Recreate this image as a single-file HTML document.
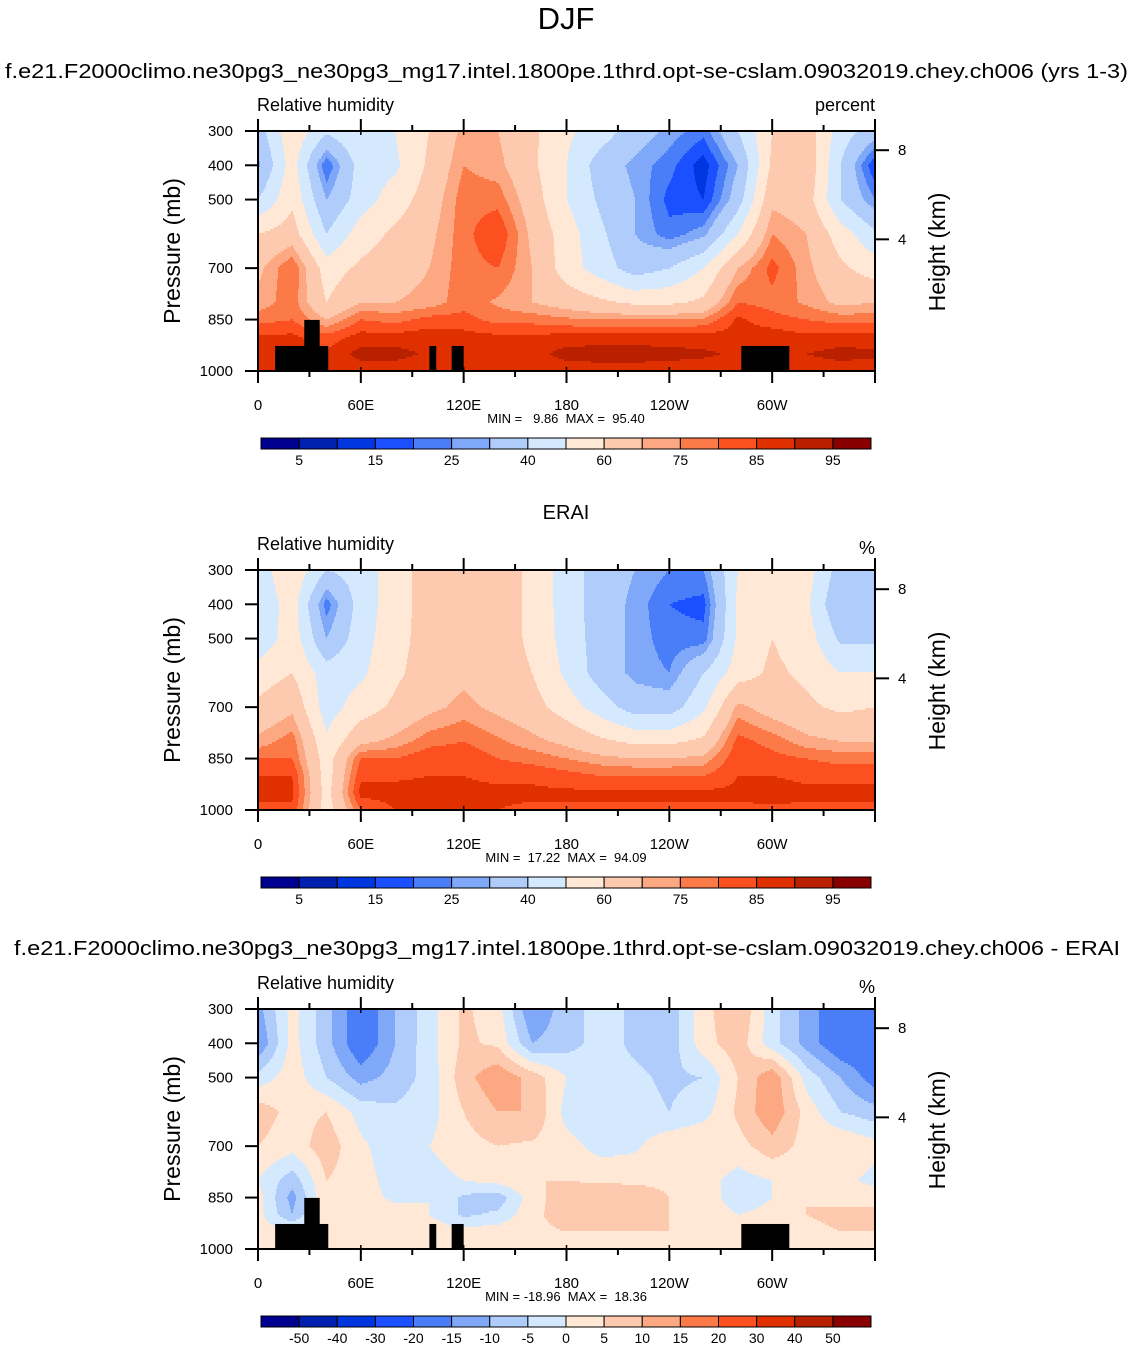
<!DOCTYPE html>
<html><head><meta charset="utf-8"><style>
html,body{margin:0;padding:0;background:#fff}
svg{display:block;font-family:"Liberation Sans",Arial,sans-serif}
.pre{white-space:pre}
</style></head><body>
<svg id="root" width="1133" height="1349" viewBox="0 0 1133 1349" xmlns="http://www.w3.org/2000/svg">
<text x="566" y="29" font-size="31" text-anchor="middle">DJF</text>
<text x="5" y="78" font-size="20" textLength="1123" lengthAdjust="spacingAndGlyphs">f.e21.F2000climo.ne30pg3_ne30pg3_mg17.intel.1800pe.1thrd.opt-se-cslam.09032019.chey.ch006 (yrs 1-3)</text>
<text x="566" y="519" font-size="20" text-anchor="middle">ERAI</text>
<text x="14" y="955" font-size="20" textLength="1106" lengthAdjust="spacingAndGlyphs">f.e21.F2000climo.ne30pg3_ne30pg3_mg17.intel.1800pe.1thrd.opt-se-cslam.09032019.chey.ch006 - ERAI</text>
</svg>
<script>
// ---- data ----
const lons = [0,20,40,60,80,100,120,140,160,180,200,220,240,260,280,300,320,340,360];
const levels = [300,400,500,600,700,800,850,900,950,1000];
const modelRH = [
[35,58,42,50,50,60,72,70,62,52,45,35,28,22,40,60,66,45,35],
[28,55,20,45,48,62,75,72,62,50,35,28,22,12,30,62,68,40,15],
[40,58,30,45,55,65,78,78,65,50,38,30,18,15,35,68,65,40,25],
[60,65,40,55,62,68,78,85,68,55,42,30,22,28,50,75,70,55,42],
[68,80,55,62,66,70,78,80,70,55,45,35,40,50,70,82,72,62,55],
[72,78,60,70,70,72,78,74,70,66,62,58,58,62,80,78,74,68,70],
[78,80,70,80,78,82,82,78,78,76,75,75,75,76,86,82,80,78,78],
[86,86,82,87,87,88,87,86,86,87,87,87,87,87,87,88,86,87,87],
[89,89,86,92,92,89,89,88,88,92,93,93,92,91,89,89,90,92,91],
[86,86,85,87,87,86,86,86,86,87,87,87,87,87,87,87,87,87,87]];
const eraiRH = [
[45,58,40,45,55,65,70,65,58,45,35,30,25,25,50,58,55,35,40],
[42,55,22,45,55,65,66,65,58,45,35,28,20,18,52,58,52,30,30],
[42,56,30,46,56,65,66,65,58,46,35,28,22,22,52,60,55,38,38],
[55,60,45,48,58,65,68,65,60,48,35,28,25,40,55,62,58,50,50],
[62,68,45,55,62,68,72,68,64,55,45,35,35,48,72,66,62,58,60],
[72,78,52,68,72,78,80,76,72,68,62,58,58,62,82,78,72,70,70],
[80,80,55,80,80,84,84,80,78,75,72,70,70,72,84,82,80,78,78],
[85,85,55,84,84,85,85,84,84,82,80,80,80,80,85,85,84,84,84],
[86,86,56,87,87,87,86,86,86,86,86,86,86,86,86,87,86,86,86],
[84,84,55,80,85,85,85,85,84,84,84,84,84,84,84,84,84,84,84]];
const diffRH = [
[-12,2,-8,-20,-10,-2,6,2,-15,-7,-3,-6,-8,3,10,-3,-12,-20,-20],
[-15,2,-8,-20,-10,-2,6,4,-10,-7,-3,-6,-8,3,8,-3,-12,-20,-20],
[-3,3,-5,-12,-8,-3,8,14,8,0,-3,-4,-6,-5,5,14,-2,-10,-18],
[8,3,5,-2,-4,-2,5,10,10,-2,-5,-3,-5,-2,6,14,3,-5,-8],
[5,2,8,1,-3,0,3,5,4,2,-2,-1,4,5,3,8,3,5,2],
[0,-8,5,2,-2,-2,0,2,5,5,4,4,4,2,-2,0,2,2,-2],
[2,-12,5,2,-1,0,-6,-8,3,8,10,8,5,4,-4,0,5,4,4],
[2,-10,5,3,2,0,-6,-4,4,7,9,7,5,5,0,2,5,6,6],
[2,2,3,2,3,3,2,3,4,5,5,5,5,4,1,2,4,5,5],
[3,3,3,2,3,3,2,3,3,4,4,4,3,3,2,3,3,2,3]];
const rhLevels = [5,10,15,20,25,30,40,50,60,70,75,80,85,90,95];
const rhTickLabels = ["5","15","25","40","60","75","85","95"];
const diffLevels = [-50,-40,-30,-20,-15,-10,-5,0,5,10,15,20,30,40,50];
const diffTickLabels = ["-50","-40","-30","-20","-15","-10","-5","0","5","10","15","20","30","40","50"];
const lonTicks = [0,60,120,180,240,300];
const lonTickLabels = ["0","60E","120E","180","120W","60W"];
const pTicks = [300,400,500,700,850,1000];
const hTicks = [8,4];
const hTickP = [356,616];
const stats = ["MIN =   9.86  MAX =  95.40","MIN =  17.22  MAX =  94.09","MIN = -18.96  MAX =  18.36"];
const colors = ["#000090","#0020b0","#0036e0","#1a50ff","#4a7ef8","#80a8f8","#b0ccfa","#d4e8fe","#ffe8d6","#fdcab0","#fca882","#fc7a48","#fc5020","#e03000","#b82000","#880000"];
// topography blocks: [lon0, lon1, pressureTop]
const topo = [[10,41,927],[27,36,851],[100,104,927],[113,120,927],[282,310,927]];

const NS="http://www.w3.org/2000/svg";
const root=document.getElementById('root');
function mk(tag,attrs,parent){const e=document.createElementNS(NS,tag);for(const k in attrs)e.setAttribute(k,attrs[k]);(parent||root).appendChild(e);return e;}
const X0=258,X1=875;
function xs(lon){return X0+(lon/360)*(X1-X0);}
function ys(p,top){return top+(p-300)/700*240;}
function interp(grid,lon,p){
  let i=Math.min(lons.length-2,Math.floor(lon/20));let tx=(lon-lons[i])/(lons[i+1]-lons[i]);
  let j=0;while(j<levels.length-2&&p>levels[j+1])j++;
  let ty=(p-levels[j])/(levels[j+1]-levels[j]);ty=Math.max(0,Math.min(1,ty));
  const a=grid[j][i]*(1-tx)+grid[j][i+1]*tx, b=grid[j+1][i]*(1-tx)+grid[j+1][i+1]*tx;
  return a*(1-ty)+b*ty;}
function cls(v,lv){let k=0;while(k<lv.length&&v>=lv[k])k++;return k;}

function panel(top,grid,lv,tickLabels,unit,stat,showTopo,idx){
  const g=mk('g',{});
  
  
  const field=mk('g',{},g);
  
  
  const rowH=2;
  for(let y=top;y<top+240;y+=rowH){
    const p=300+(y+rowH/2-top)/240*700;
    let runStart=X0,runC=-1;
    for(let x=X0;x<=X1;x++){
      const c = x<X1 ? cls(interp(grid,(x+0.5-X0)/(X1-X0)*360,p),lv) : -2;
      if(c!==runC){
        if(runC>=0){const r=mk('rect',{x:runStart,y:y,width:x-runStart+0.5,height:rowH+0.4,fill:colors[runC]},field);
          
          }
        runStart=x;runC=c;}
    }
  }
  if(showTopo){topo.forEach(t=>{const r=mk('rect',{x:xs(t[0]),y:ys(t[2],top),width:xs(t[1])-xs(t[0]),height:ys(1000,top)-ys(t[2],top),fill:'#000'},g);
    
    });}
  const fr=mk('rect',{x:X0,y:top,width:X1-X0,height:240,fill:'none',stroke:'#000','stroke-width':2},g);
  
  
  for(let l=0;l<=360;l+=30){
    const major=l%60===0, x=xs(l), L=major?12:6;
    mk('line',{x1:x,y1:top,x2:x,y2:top-L,stroke:'#000','stroke-width':2},g);
    mk('line',{x1:x,y1:top+240,x2:x,y2:top+240+L,stroke:'#000','stroke-width':2},g);
    if(major){mk('line',{x1:x,y1:top,x2:x,y2:top+4,stroke:'#000','stroke-width':1.5},g);mk('line',{x1:x,y1:top+240,x2:x,y2:top+236,stroke:'#000','stroke-width':1.5},g);}
  }
  lonTicks.forEach((l,i)=>{const t=mk('text',{x:xs(l),y:top+279,'font-size':15,'text-anchor':'middle'},g);t.textContent=lonTickLabels[i];
    
    });
  pTicks.forEach(p=>{const y=ys(p,top);mk('line',{x1:X0-13,y1:y,x2:X0,y2:y,stroke:'#000','stroke-width':2},g);
    const t=mk('text',{x:233,y:y+5,'font-size':15,'text-anchor':'end'},g);t.textContent=p;
    
    });
  hTicks.forEach((h,i)=>{const y=ys(hTickP[i],top);mk('line',{x1:X1,y1:y,x2:X1+14,y2:y,stroke:'#000','stroke-width':2},g);
    const t=mk('text',{x:898,y:y+5,'font-size':15},g);t.textContent=h;
    
    });
  let t=mk('text',{x:0,y:0,'font-size':23,'text-anchor':'middle',transform:`translate(180,${top+120}) rotate(-90)`},g);t.textContent='Pressure (mb)';
  
  
  t=mk('text',{x:0,y:0,'font-size':23,'text-anchor':'middle',transform:`translate(945,${top+121}) rotate(-90)`},g);t.textContent='Height (km)';
  
  
  t=mk('text',{x:257,y:top-20,'font-size':18},g);t.textContent='Relative humidity';
  
  
  t=mk('text',{x:875,y:unit==='%'?top-16:top-20,'font-size':18,'text-anchor':'end'},g);t.textContent=unit;
  
  
  t=mk('text',{x:566,y:top+292,'font-size':13,'text-anchor':'middle','class':'pre'},g);t.textContent=stat;
  
  
  // colorbar
  const cb=mk('g',{},g);
  
  
  const cy=top+307,bw=(871-261)/16;
  colors.forEach((c,i)=>{const r=mk('rect',{x:261+i*bw,y:cy,width:bw,height:11,fill:c,stroke:'#000','stroke-width':1},cb);
    
    });
  const step = tickLabels.length<10?2:1;
  tickLabels.forEach((s,i)=>{const bi=step===2?2*i:i;const tt=mk('text',{x:261+(bi+1)*bw,y:cy+27,'font-size':14,'text-anchor':'middle'},cb);tt.textContent=s;
    
    });
}
panel(131,modelRH,rhLevels,rhTickLabels,'percent',stats[0],true,'model');
panel(570,eraiRH,rhLevels,rhTickLabels,'%',stats[1],false,'erai');
panel(1009,diffRH,diffLevels,diffTickLabels,'%',stats[2],true,'difference');
</script>
</body></html>
